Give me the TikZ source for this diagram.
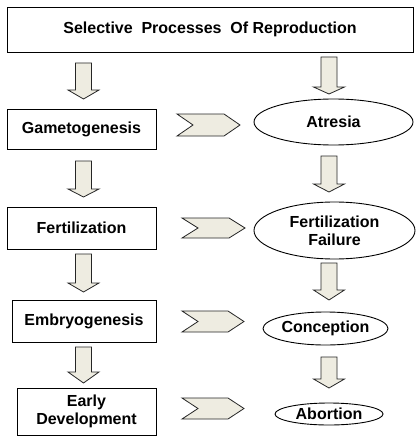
\documentclass[tikz,border=0pt]{standalone}
\usepackage{fontspec}
\setmainfont{Liberation Sans}
\usetikzlibrary{shapes.geometric}
\definecolor{arrfill}{HTML}{EEECE1}
\newcommand{\downarr}[4]{%
  \draw[arrowshape] (#1-8,#2) -- (#1+8,#2) -- (#1+8,#3) -- (#1+15.5,#3) -- (#1,#4) -- (#1-15.5,#3) -- (#1-8,#3) -- cycle;}
\newcommand{\chev}[4]{%
  \draw[arrowshape] (#1,#3) -- (#2-16,#3) -- (#2,{(#3+#4)/2}) -- (#2-16,#4) -- (#1,#4) -- (#1+16,{(#3+#4)/2}) -- cycle;}
\begin{document}
\begin{tikzpicture}[x=1pt,y=-1pt,
  arrowshape/.style={draw=black!85, fill=arrfill, line width=0.8pt, line join=miter},
  box/.style={draw=black, line width=0.9pt, align=center, font=\bfseries\fontsize{16}{18}\selectfont, inner sep=0pt},
  oval/.style={draw=black, line width=0.9pt, ellipse, align=center, font=\bfseries\fontsize{16}{18}\selectfont, inner sep=0pt}]
\useasboundingbox (0,0) rectangle (418,441);
\fill[white] (0,0) rectangle (418,441);
% title
\node[box, minimum width=406pt, minimum height=45pt] (title) at (210,29.5) {Selective\hspace{0.55em}Processes\hspace{0.55em}Of Reproduction};
% left column
\node[box, minimum width=149pt, minimum height=40pt] (gam) at (81.5,129) {Gametogenesis};
\node[box, minimum width=149pt, minimum height=42pt] (fert) at (81.5,228) {Fertilization};
\node[box, minimum width=144pt, minimum height=42pt] (emb) at (84,321) {Embryogenesis};
\node[box, minimum width=139pt, minimum height=47pt] (early) at (86.5,411.5) {Early\\Development};
% right column
\node[oval, minimum width=159pt, minimum height=46pt] (atr) at (333.5,122) {Atresia};
\node[oval, minimum width=161pt, minimum height=57pt] (ff) at (334.5,230.5) {Fertilization\\Failure};
\node[oval, minimum width=125pt, minimum height=33pt] (con) at (325.5,328.5) {Conception};
\node[oval, minimum width=108pt, minimum height=22pt] (abo) at (329,414) {Abortion};
% down arrows, left
\downarr{83.5}{63}{90}{99}
\downarr{83.5}{161}{189}{197}
\downarr{83.5}{254}{283}{292}
\downarr{83.5}{347}{372}{383}
% down arrows, right
\downarr{329}{57}{87}{94}
\downarr{329}{156}{184}{192}
\downarr{329}{263}{290}{300}
\downarr{329}{357}{379}{388}
% chevrons
\chev{177}{240}{114}{136}
\chev{182}{245}{218}{238}
\chev{182}{244}{311}{332}
\chev{182}{244}{398}{419}
\end{tikzpicture}
\end{document}
